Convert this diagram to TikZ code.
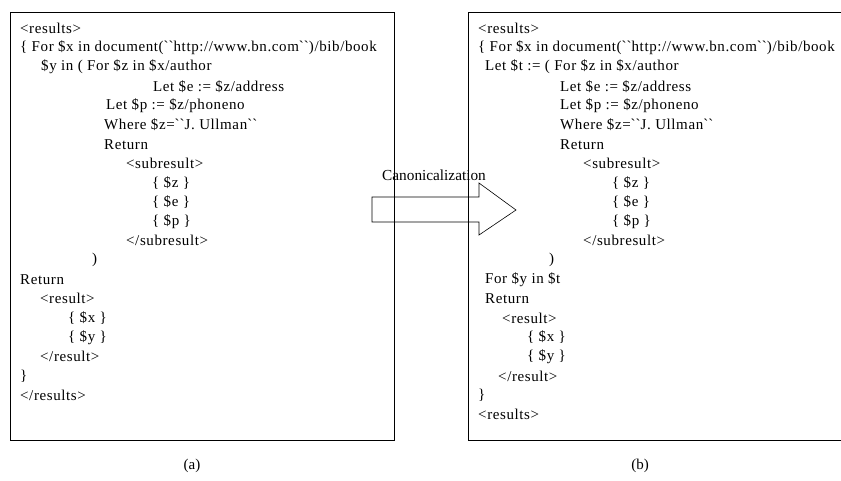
\documentclass[tikz,border=0pt]{standalone}
\usepackage{fontspec}
\setmainfont{Liberation Serif}
\newfontfamily\listfont{Liberation Serif}[LetterSpace=4]
\usepackage{tikz}
\newcommand{\gr}{\textasciigrave\textasciigrave}

\begin{document}
\begin{tikzpicture}[x=1pt,y=-1pt,
    code/.style={anchor=west,inner sep=0pt,font=\listfont\fontsize{15}{18}\selectfont},
    frame/.style={draw,line width=0.8pt}]
    \useasboundingbox (0,0) rectangle (841,480);

    % the two boxes
    \draw[frame] (10,12) rectangle (394,440);
    \draw[frame] (846,12) -- (468,12) -- (468,440) -- (846,440);

    % (a) the original query
    \node[code](a1) at (20,28.5) {<results>};
    \node[code](a2) at (20,47.8) {\{ For \$x in document(\gr http://www.bn.com\gr)/bib/book};
    \node[code](a3) at (41,67.1) {\$y in ( For \$z in \$x/author};
    \node[code](a4) at (153,86.4) {Let \$e := \$z/address};
    \node[code](a5) at (106,105.7) {Let \$p := \$z/phoneno};
    \node[code](a6) at (104,125) {Where \$z=\gr J. Ullman\gr};
    \node[code](a7) at (104,144.3) {Return};
    \node[code](a8) at (126,163.6) {<subresult>};
    \node[code](a9) at (152,182.9) {\{ \$z \}};
    \node[code](a10) at (152,202.2) {\{ \$e \}};
    \node[code](a11) at (152,221.5) {\{ \$p \}};
    \node[code](a12) at (126,240.8) {</subresult>};
    \node[code](a13) at (92,260.1) {)};
    \node[code](a14) at (20,279.4) {Return};
    \node[code](a15) at (40,298.7) {<result>};
    \node[code](a16) at (68,318) {\{ \$x \}};
    \node[code](a17) at (68,337.3) {\{ \$y \}};
    \node[code](a18) at (40,356.6) {</result>};
    \node[code](a19) at (20,375.9) {\}};
    \node[code](a20) at (20,395.2) {</results>};

    % (b) the canonical form
    \node[code](b1) at (478,28.5) {<results>};
    \node[code](b2) at (478,47.8) {\{ For \$x in document(\gr http://www.bn.com\gr)/bib/book};
    \node[code](b3) at (485,67.1) {Let \$t := ( For \$z in \$x/author};
    \node[code](b4) at (560,86.4) {Let \$e := \$z/address};
    \node[code](b5) at (560,105.7) {Let \$p := \$z/phoneno};
    \node[code](b6) at (560,125) {Where \$z=\gr J. Ullman\gr};
    \node[code](b7) at (560,144.3) {Return};
    \node[code](b8) at (583,163.6) {<subresult>};
    \node[code](b9) at (612,182.9) {\{ \$z \}};
    \node[code](b10) at (612,202.2) {\{ \$e \}};
    \node[code](b11) at (612,221.5) {\{ \$p \}};
    \node[code](b12) at (583,240.8) {</subresult>};
    \node[code](b13) at (549,260.1) {)};
    \node[code](b14) at (485,279.4) {For \$y in \$t};
    \node[code](b15) at (485,298.7) {Return};
    \node[code](b16) at (502,318) {<result>};
    \node[code](b17) at (527,337.3) {\{ \$x \}};
    \node[code](b18) at (527,356.6) {\{ \$y \}};
    \node[code](b19) at (498,375.9) {</result>};
    \node[code](b20) at (478,395.2) {\}};
    \node[code](b21) at (478,414.5) {<results>};

    % block arrow between them
    \draw[line width=0.6pt] (372,197) -- (479,197) -- (479,183) -- (516,210)
        -- (479,235) -- (479,222) -- (372,222) -- cycle;
    \node[code,font=\fontsize{15.3}{18}\selectfont](canon) at (382,175) {Canonicalization};

    \node[font=\fontsize{15}{18}\selectfont](capa) at (192,466) {(a)};
    \node[font=\fontsize{15}{18}\selectfont](capb) at (640,466) {(b)};
\end{tikzpicture}
\end{document}
